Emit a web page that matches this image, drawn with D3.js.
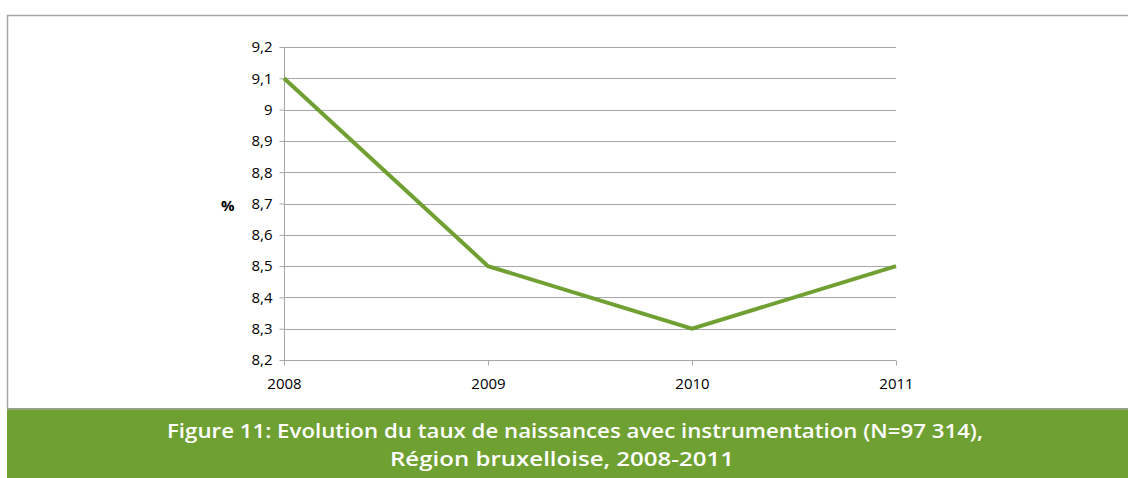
<!DOCTYPE html>
<html lang="fr">
<head>
  <meta charset="UTF-8">
  <title>Figure 11</title>
  <script src="https://d3js.org/d3.v7.min.js"></script>
  <style>
    body { margin: 0; background: #fff; }
    svg { display: block; }
  </style>
</head>
<body>
  <div id="chart"></div>
  <script>
    // data
    const years = [2008, 2009, 2010, 2011];
    const rates = [9.1, 8.5, 8.3, 8.5];
    const yTicks = [8.2, 8.3, 8.4, 8.5, 8.6, 8.7, 8.8, 8.9, 9.0, 9.1, 9.2];
    const titleLines = [
      "Figure 11: Evolution du taux de naissances avec instrumentation (N=97 314),",
      "Région bruxelloise, 2008-2011"
    ];

    const width = 1128, height = 478;
    const plot = { left: 284, right: 896, top: 47, bottom: 360 };
    const axisFont = "'Open Sans', 'Liberation Sans', sans-serif";

    const svg = d3.select("#chart").append("svg")
      .attr("width", width)
      .attr("height", height);

    // frame
    svg.append("path")
      .attr("d", `M${width},15.5 H7.5 V408`)
      .attr("fill", "none")
      .attr("stroke", "#a6a6a6")
      .attr("stroke-width", 1.5);

    const x = d3.scalePoint()
      .domain(years)
      .range([plot.left, plot.right]);

    const y = d3.scaleLinear()
      .domain([8.2, 9.2])
      .range([plot.bottom, plot.top]);

    const fmt = d => d3.format(".1~f")(d).replace(".", ",");

    // grid lines
    svg.append("g")
      .selectAll("line")
      .data(yTicks)
      .join("line")
      .attr("x1", plot.left)
      .attr("x2", plot.right)
      .attr("y1", d => Math.round(y(d)) + 0.5)
      .attr("y2", d => Math.round(y(d)) + 0.5)
      .attr("stroke", "#a6a6a6")
      .attr("stroke-width", 1);

    // y axis
    const yAxis = svg.append("g")
      .attr("transform", `translate(${plot.left + 0.5},0)`)
      .call(d3.axisLeft(y).tickValues(yTicks).tickFormat(fmt).tickSize(5).tickPadding(7));
    yAxis.select(".domain").attr("stroke", "#a6a6a6").attr("d", `M0,${plot.top}V${plot.bottom}`);
    yAxis.selectAll(".tick line").attr("stroke", "#a6a6a6");
    yAxis.selectAll(".tick text")
      .attr("fill", "#000")
      .style("font-family", axisFont)
      .style("font-size", "15px");

    // x axis
    const xAxis = svg.append("g")
      .attr("transform", `translate(0,${plot.bottom + 0.5})`)
      .call(d3.axisBottom(x).tickSize(5).tickPadding(13));
    xAxis.select(".domain").attr("stroke", "#a6a6a6").attr("d", `M${plot.left},0H${plot.right}`);
    xAxis.selectAll(".tick line").attr("stroke", "#a6a6a6");
    xAxis.selectAll(".tick text")
      .attr("fill", "#000")
      .style("font-family", axisFont)
      .style("font-size", "15px");

    // axis unit
    svg.append("text")
      .attr("x", 221)
      .attr("y", 211)
      .attr("font-family", axisFont)
      .attr("font-size", 15)
      .attr("font-weight", "bold")
      .text("%");

    // series line
    const line = d3.line()
      .x((d, i) => x(years[i]))
      .y(d => y(d));

    svg.append("path")
      .datum(rates)
      .attr("d", line)
      .attr("fill", "none")
      .attr("stroke", "#70a032")
      .attr("stroke-width", 4)
      .attr("stroke-linejoin", "miter");

    // caption band
    svg.append("rect")
      .attr("x", 7)
      .attr("y", 408)
      .attr("width", width - 7)
      .attr("height", 2)
      .attr("fill", "#95a083");
    svg.append("rect")
      .attr("x", 7)
      .attr("y", 410)
      .attr("width", width - 7)
      .attr("height", height - 410)
      .attr("fill", "#6fa032");

    const lineSpans = [[167, 983], [390, 734]];
    svg.append("g")
      .selectAll("text")
      .data(titleLines)
      .join("text")
      .attr("x", (d, i) => lineSpans[i][0])
      .attr("y", (d, i) => i === 0 ? 438 : 466)
      .attr("textLength", (d, i) => lineSpans[i][1] - lineSpans[i][0])
      .attr("lengthAdjust", "spacingAndGlyphs")
      .attr("fill", "#fff")
      .attr("font-family", "'Open Sans', sans-serif")
      .attr("font-weight", 600)
      .attr("font-size", 19.5)
      .text(d => d);
  </script>
</body>
</html>
